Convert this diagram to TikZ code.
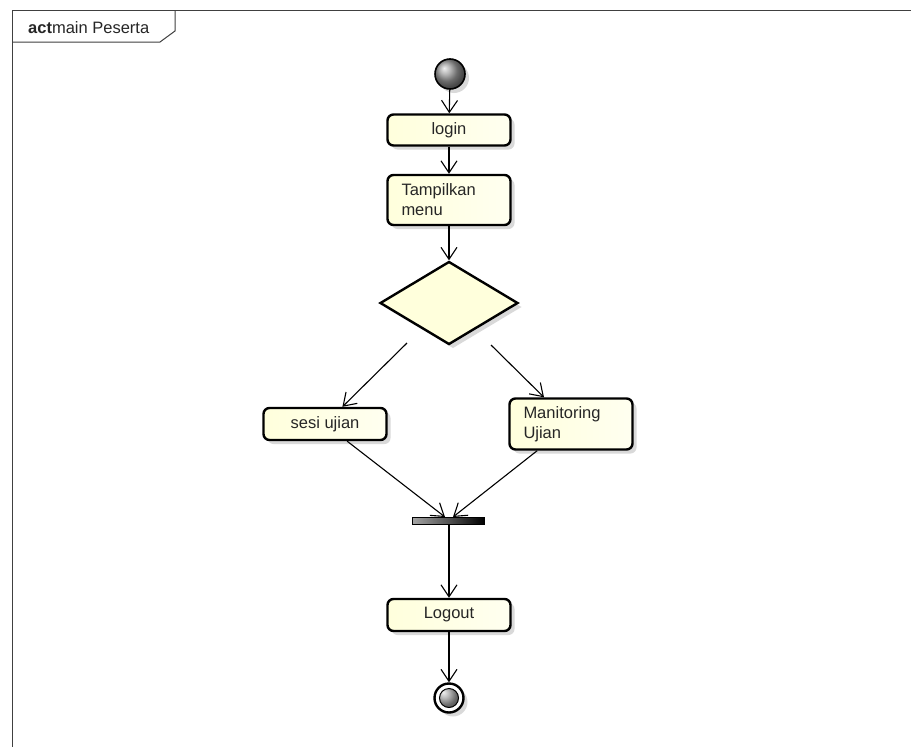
\documentclass[tikz,border=0pt]{standalone}
\usepackage{fontspec}
\setmainfont{Liberation Sans}
\usetikzlibrary{arrows.meta,shapes.geometric,shadows}

\definecolor{actfill}{RGB}{255,255,220}
\definecolor{actlight}{RGB}{255,255,240}

\tikzset{
	actshadow/.style={drop shadow={shadow xshift=4pt,shadow yshift=-4pt,fill=black,opacity=0.15}},
	action/.style={draw,line width=2.4pt,rounded corners=6pt,left color=actfill,right color=actlight,
		minimum width=123pt,inner xsep=14pt,text=black!85,font=\fontsize{16.5}{20}\selectfont,actshadow},
	decision/.style={diamond,draw,line width=2.4pt,fill=actfill,minimum width=138pt,minimum height=83pt,inner sep=0pt,actshadow},
	startnode/.style={circle,draw,line width=1.6pt,minimum size=30pt,inner sep=0pt,shading=ball,ball color=gray!80,actshadow},
	endnode/.style={circle,draw,line width=2.4pt,fill=white,minimum size=29pt,inner sep=0pt,actshadow,
		path picture={\shade[ball color=gray!80] (path picture bounding box.center) circle (9.5pt);
			\draw[line width=1pt] (path picture bounding box.center) circle (9.5pt);}},
	forkbar/.style={draw,line width=1pt,minimum width=72pt,minimum height=7pt,inner sep=0pt,left color=gray!70,middle color=white!80!gray,right color=black},
	flow/.style={line width=1.1pt,-{Straight Barb[length=12pt,width=16pt]}},
	frameline/.style={line width=1pt,black!75}
}

\begin{document}
\begin{tikzpicture}[x=1pt,y=-1pt]
	
	\useasboundingbox[fill=white] (0,0) rectangle (911,747);
	
	\draw[frameline] (911,10) -- (12,10) -- (12,747);
	\draw[frameline] (12,42) -- (160,42) -- (175,31) -- (175,10);
	\node[anchor=base west,inner sep=0pt,text=black!85,font=\fontsize{16.5}{20}\selectfont] (title) at (28,33) {\textbf{act}main Peserta};
	
	\node[startnode] (start) at (450,74) {};
	\node[action,minimum height=31pt] (login) at (449,130) {login};
	\node[action,minimum height=50pt,text width=95pt,align=left] (menu) at (449,200) {Tampilkan\\menu};
	\node[decision] (choice) at (449,303) {};
	\coordinate (choiceL) at (407,343);
	\coordinate (choiceR) at (491,345);
	\node[action,minimum height=32pt] (sesi) at (325,424) {sesi ujian};
	\node[action,minimum height=51pt,text width=95pt,align=left] (monitor) at (571,424) {Manitoring\\Ujian};
	\node[forkbar] (join) at (448,521) {};
	\node[action,minimum height=32pt] (logout) at (449,615) {Logout};
	\node[endnode] (stop) at (449,698) {};
	
	\draw[flow] (start) -- (login);
	\draw[flow] (login) -- (menu);
	\draw[flow] (menu) -- (choice);
	\draw[flow] (choiceL) -- (sesi);
	\draw[flow] (choiceR) -- (monitor);
	\draw[flow] (sesi) -- ([xshift=-3pt]join.north);
	\draw[flow] (monitor) -- ([xshift=5pt]join.north);
	\draw[flow] ([xshift=1pt]join.south) -- (logout);
	\draw[flow] (logout) -- (stop);
	
\end{tikzpicture}
\end{document}
